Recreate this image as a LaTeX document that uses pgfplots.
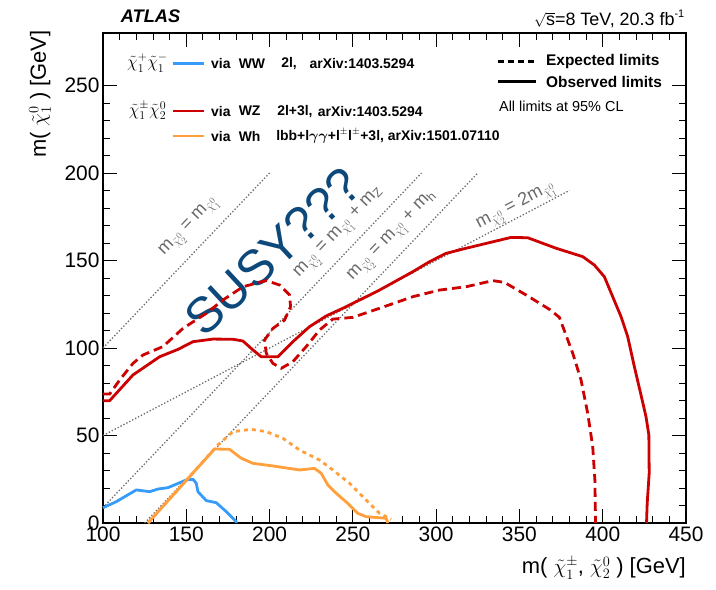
\documentclass[border=0pt]{standalone}
\usepackage{amsmath}
\usepackage{fontspec}
\setmainfont{Liberation Sans}
\usepackage{pgfplots}
\pgfplotsset{compat=1.18}
\definecolor{wwblue}{RGB}{55,155,250}
\definecolor{wzred}{RGB}{204,0,0}
\definecolor{whorange}{RGB}{255,160,60}
\definecolor{susyblue}{RGB}{12,72,122}
\definecolor{diaggray}{RGB}{105,105,105}
\begin{document}
\begin{tikzpicture}
\begin{axis}[
  width=583bp, height=490bp, scale only axis,
  xmin=100, xmax=450, ymin=0, ymax=280,
  xtick={100,150,...,450}, ytick={0,50,...,250},
  minor x tick num=4, minor y tick num=4,
  tick align=inside, xtick pos=both, ytick pos=both,
  major tick length=14bp, minor tick length=7bp,
  major tick style={black, line width=0.9bp},
  minor tick style={black, line width=0.9bp},
  axis line style={line width=1.3bp},
  ticklabel style={font=\fontsize{21}{21}\selectfont},
  /pgf/number format/assume math mode=true,
  clip=false,
]
% kinematic lines
\addplot[diaggray, dotted, line width=1.3bp] coordinates {(100,100)(200,200)};
\addplot[diaggray, dotted, line width=1.3bp] coordinates {(100,8.8)(291.2,200)};
\addplot[diaggray, dotted, line width=1.3bp] coordinates {(125,0)(325,200)};
\addplot[diaggray, dotted, line width=1.3bp] coordinates {(100,50)(380,190)};

\node[rotate=46.3, diaggray, font=\fontsize{18}{18}\selectfont] at (axis cs:152,169) {m$_{\tilde\chi^0_2}$ = m$_{\tilde\chi^0_1}$};
\node[rotate=46.3, diaggray, font=\fontsize{18}{18}\selectfont] at (axis cs:242,165.5) {m$_{\tilde\chi^0_2}$ = m$_{\tilde\chi^0_1}$ + m$_{\mathrm{Z}}$};
\node[rotate=46.3, diaggray, font=\fontsize{18}{18}\selectfont] at (axis cs:274,163.6) {m$_{\tilde\chi^0_2}$ = m$_{\tilde\chi^0_1}$ + m$_{\mathrm{h}}$};
\node[rotate=27.65, diaggray, font=\fontsize{18}{18}\selectfont] at (axis cs:348,181) {m$_{\tilde\chi^0_2}$ = 2m$_{\tilde\chi^0_1}$};

\node[rotate=43, susyblue, font=\fontsize{50}{50}\selectfont] at (axis cs:202,155) {SUSY???};

% WW observed
\addplot[wwblue, line width=2.8bp, line join=round] coordinates {
(100,8.7)(108,12.2)(113,15)(120,18.9)(128,17.9)(133,19.4)(139,20.2)(146,23)(150,24.6)(154,25)(156,22.7)(157,17.9)(162,12.8)(168,11.6)(174,6.5)(180,0.8)(180,0)};

% Wh expected
\addplot[whorange, line width=2.8bp, dash pattern=on 4bp off 4bp] coordinates {
(127,0)(169,44.6)(178,52.2)(189,53.5)(198,52.2)(208,48.4)(218,41.7)(230,36)(238,30.3)(248,22.7)(258,13.1)(266,5.5)(273,2.1)};
% Wh observed
\addplot[whorange, line width=2.8bp, line join=round] coordinates {
(127,0)(167,42.3)(176,42.1)(183,37)(190,34.1)(202,32.6)(218,30.3)(227,31.2)(231,28.4)(235,21.7)(240,17)(247,11.2)(253,5.5)(258,3.6)(270,2.7)(271,0)};

% WZ expected
\addplot[wzred, line width=2.8bp, dash pattern=on 9bp off 5bp] coordinates {
(100,73.7)(104,73.7)(110,81.7)(118,91.2)(124,96)(136,100.8)(148,111.2)(162,119.8)(172,127.4)(184,135)(198,138.5)(206,136)(212,130.3)(212.6,123.6)(209,116)(202,111.2)(197,104.6)(198,97)(202,91.2)(207,88.4)(214,92.2)(222,100.8)(230,110.3)(238,116.5)(250,117.5)(266,122.7)(286,129.3)(302,133.1)(318,135)(334,138.5)(341,137.5)(354,130.3)(368,122.1)(374,117.5)(382,97)(387,81.7)(391,62.7)(394,43.6)(395.3,24.6)(395.7,0)};
% WZ observed
\addplot[wzred, line width=2.8bp, line join=round] coordinates {
(100,69.9)(104,69.9)(118,84.6)(134,95)(145,99.2)(154,103.6)(166,105.1)(178,105)(184,104)(190,98.9)(195,95)(205,95)(214,103.6)(224,112.2)(234,118.3)(246,123.6)(266,133.1)(286,143.6)(296,149.3)(306,154.1)(318,157)(345,163.2)(355,163)(372,157)(388,152.2)(395,147.4)(401,140.7)(406,129.3)(411,117.9)(415,106.5)(419,89.3)(423,73.1)(426,60.7)(427.7,50.3)(427.9,28.4)(426.7,11.2)(426.3,0)};

% left legend
\node[font=\fontsize{18}{18}\selectfont, inner sep=0] at (axis cs:126.7,262.9) {$\tilde\chi^+_1\tilde\chi^-_1$};
\node[font=\fontsize{18}{18}\selectfont, inner sep=0] at (axis cs:126.7,235.6) {$\tilde\chi^\pm_1\tilde\chi^0_2$};
\draw[wwblue, line width=2.8bp] (axis cs:141.8,262.7) -- (axis cs:160.8,262.7);
\draw[wzred, line width=2.8bp] (axis cs:141.8,235.4) -- (axis cs:160.8,235.4);
\draw[whorange, line width=2.8bp] (axis cs:141.8,221.1) -- (axis cs:160.8,221.1);
\begin{scope}[every node/.style={font=\fontsize{14}{14}\selectfont\bfseries, inner sep=0, anchor=west}]
\node at (axis cs:164.8,262.7) {via};
\node at (axis cs:181.4,262.7) {WW};
\node at (axis cs:206.9,262.7) {2l,};
\node at (axis cs:223.9,262.7) {arXiv:1403.5294};
\node at (axis cs:164.8,235.4) {via};
\node at (axis cs:181.4,235.4) {WZ};
\node at (axis cs:204.5,235.4) {2l+3l,};
\node at (axis cs:228.9,235.4) {arXiv:1403.5294};
\node at (axis cs:164.8,221.1) {via};
\node at (axis cs:181.4,221.1) {Wh};
\node at (axis cs:203.9,221.1) {lbb+l$\boldsymbol{\gamma\gamma}$+l$^{\pm}$l$^{\pm}$+3l, arXiv:1501.07110};
\end{scope}

% right legend
\draw[black, line width=2.5bp, dash pattern=on 6bp off 4bp] (axis cs:337.1,263.6) -- (axis cs:359.9,263.6);
\draw[black, line width=2.5bp] (axis cs:337.1,252.2) -- (axis cs:359.9,252.2);
\node[anchor=west, inner sep=0, font=\fontsize{15.5}{15.5}\selectfont\bfseries] at (axis cs:365.9,263.6) {Expected limits};
\node[anchor=west, inner sep=0, font=\fontsize{15.5}{15.5}\selectfont\bfseries] at (axis cs:365.9,252.2) {Observed limits};
\node[anchor=west, inner sep=0, font=\fontsize{14.5}{14.5}\selectfont] at (axis cs:337.7,237.9) {All limits at 95\% CL};

% titles
\node[anchor=west, inner sep=0, font=\fontsize{18.3}{18.3}\selectfont\bfseries\itshape] at (axis cs:110.6,289.7) {ATLAS};
\node[anchor=base east, inner sep=0, font=\fontsize{18}{18}\selectfont] at (axis cs:449.1,284.2) {{\fontsize{15}{15}\selectfont$\sqrt{\mbox{\fontsize{18}{18}\selectfont s}}$}=8 TeV, 20.3 fb\raisebox{0.85ex}{\fontsize{11}{11}\selectfont -1}};

% axis labels
\node[rotate=90, anchor=east, inner sep=0, font=\fontsize{22}{22}\selectfont] at (axis cs:62.2,281.5) {m( $\tilde\chi^0_1$ ) [GeV]};
\node[anchor=east, inner sep=0, font=\fontsize{22}{22}\selectfont] at (axis cs:450,-25.8) {m( $\tilde\chi^\pm_1$, $\tilde\chi^0_2$ ) [GeV]};
\end{axis}
\pgfresetboundingbox
\path (-103bp,-67bp) rectangle (613bp,523bp);
\end{tikzpicture}
\end{document}
